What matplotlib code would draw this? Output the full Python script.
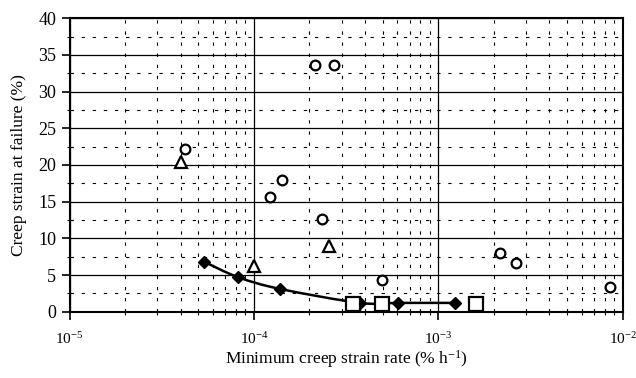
import numpy as np
import matplotlib
matplotlib.use("Agg")
import matplotlib.pyplot as plt
from matplotlib.path import Path
from matplotlib.patches import PathPatch
from matplotlib.ticker import LogLocator, MultipleLocator

plt.rcParams['font.family'] = ['Liberation Serif', 'DejaVu Serif']
plt.rcParams['mathtext.fontset'] = 'custom'
plt.rcParams['mathtext.rm'] = 'Liberation Serif'
plt.rcParams['mathtext.it'] = 'Liberation Serif:italic'

# creep data: minimum creep strain rate (% / h) vs strain at failure (%)
fit_rate = [5.38e-5, 8.22e-5, 1.39e-4, 3.76e-4, 6.07e-4, 1.24e-3]
fit_strain = [6.8, 4.7, 3.1, 1.2, 1.2, 1.2]

circle_rate = [4.23e-5, 2.14e-4, 2.73e-4, 1.42e-4, 1.23e-4, 2.33e-4, 4.93e-4, 2.16e-3, 2.64e-3, 8.53e-3]
circle_strain = [22.2, 33.6, 33.6, 18.0, 15.6, 12.7, 4.3, 8.0, 6.7, 3.4]

tri_rate = [4.03e-5, 1.0e-4, 2.54e-4]
tri_strain = [20.4, 6.2, 9.0]

square_rate = [3.44e-4, 4.93e-4, 1.61e-3]
square_strain = [1.0, 1.0, 1.05]


def smooth_path(xs, ys):
    # excel style smoothed line: cubic beziers built in log-x space
    lx = np.log10(xs)
    ys = np.asarray(ys, dtype=float)
    pts = np.column_stack([lx, ys])
    n = len(pts)
    verts = [pts[0]]
    codes = [Path.MOVETO]
    for i in range(n - 1):
        p0 = pts[max(i - 1, 0)]
        p1 = pts[i]
        p2 = pts[i + 1]
        p3 = pts[min(i + 2, n - 1)]
        c1 = p1 + (p2 - p0) / 6.0
        c2 = p2 - (p3 - p1) / 6.0
        verts += [c1, c2, p2]
        codes += [Path.CURVE4] * 3
    verts = np.array(verts)
    verts[:, 0] = 10 ** verts[:, 0]
    return Path(verts, codes)


fig = plt.figure(figsize=(6.36, 3.78), dpi=100)
ax = fig.add_axes([0.1093, 0.1754, 0.8697, 0.7762])

ax.set_xscale('log')
ax.set_xlim(1e-5, 1e-2)
ax.set_ylim(0, 40)

# grid: solid on the majors, dashed on the minors
ax.yaxis.set_major_locator(MultipleLocator(5))
ax.yaxis.set_minor_locator(MultipleLocator(2.5))
ax.xaxis.set_major_locator(LogLocator(base=10, numticks=10))
ax.xaxis.set_minor_locator(LogLocator(base=10, subs=np.arange(2, 10), numticks=20))
ax.grid(which='major', color='black', linewidth=0.9)
ax.grid(which='minor', color='black', linewidth=0.8, linestyle=(0, (3, 7)))
ax.set_axisbelow(True)

ax.add_patch(PathPatch(smooth_path(fit_rate, fit_strain), facecolor='none',
                       edgecolor='black', linewidth=1.8, zorder=3))
ax.plot(fit_rate, fit_strain, linestyle='none', marker='D', markersize=6,
        color='black', zorder=4)
ax.plot(circle_rate, circle_strain, linestyle='none', marker='o', markersize=7,
        markerfacecolor='white', markeredgecolor='black', markeredgewidth=1.6, zorder=4)
ax.plot(tri_rate, tri_strain, linestyle='none', marker='^', markersize=8,
        markerfacecolor='white', markeredgecolor='black', markeredgewidth=1.6, zorder=4)
ax.plot(square_rate, square_strain, linestyle='none', marker='s', markersize=10,
        markerfacecolor='white', markeredgecolor='black', markeredgewidth=1.6, zorder=4)

for s in ax.spines.values():
    s.set_linewidth(1.5)
    s.set_color('black')

ax.tick_params(axis='both', which='major', direction='out', length=6, width=1.2,
               labelsize=13, colors='black')
ax.tick_params(axis='both', which='minor', direction='inout', length=5, width=0.8)
ax.tick_params(axis='x', which='major', pad=8, labelsize=11)
ax.xaxis.set_major_formatter(plt.FuncFormatter(lambda v, p: r'$10^{%d}$' % round(np.log10(v))))

ax.set_xlabel('Minimum creep strain rate (% h$^{-1}$)', fontsize=12.5, labelpad=1)
ax.set_ylabel('Creep strain at failure (%)', fontsize=12.5, labelpad=8)

fig.savefig('out.png', dpi=100)
